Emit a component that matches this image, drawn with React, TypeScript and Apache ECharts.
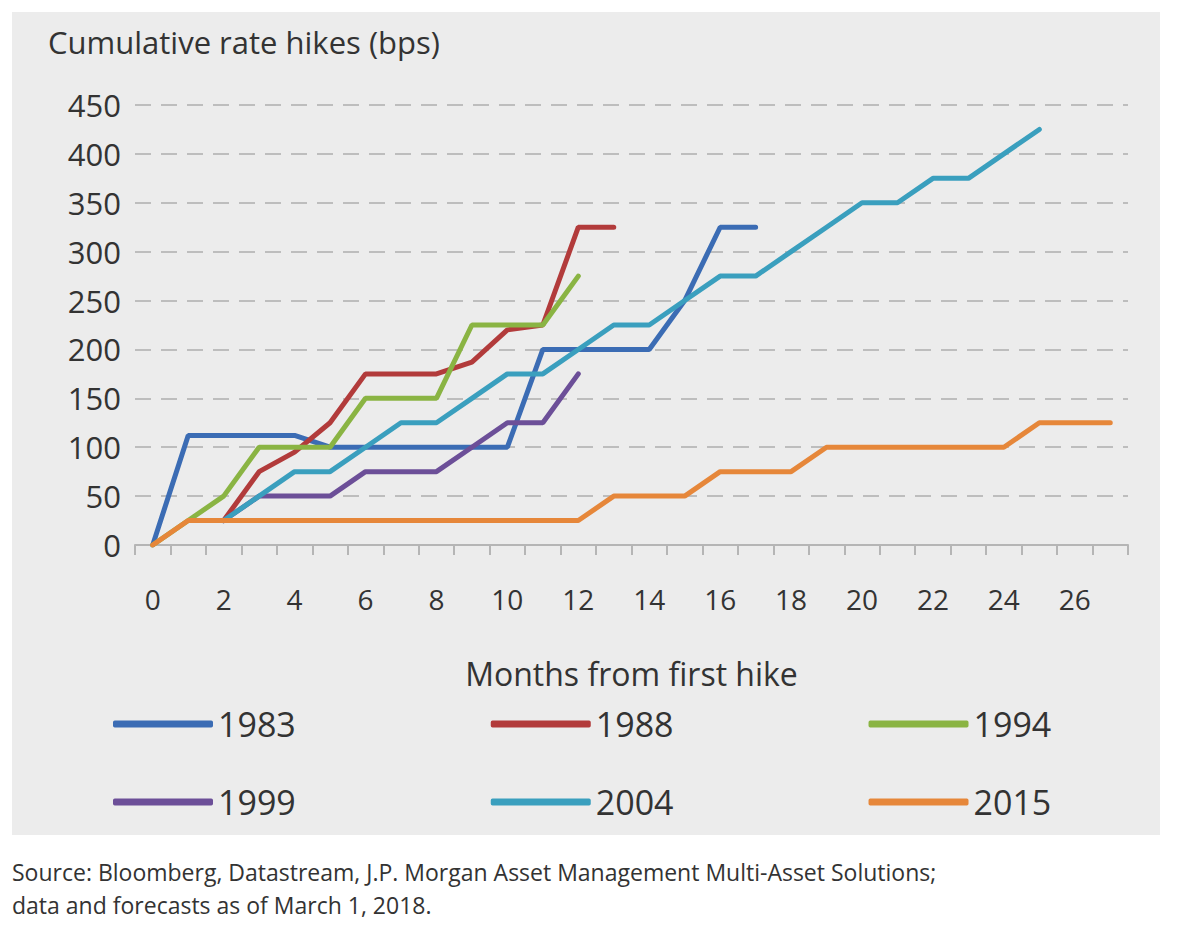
import { useEffect, useRef } from "react";
import * as echarts from "echarts";

const months = Array.from({ length: 28 }, (_, i) => String(i));
const yTicks = [0, 450, 50];

const s1983 = [0, 112, 112, 112, 112, 100, 100, 100, 100, 100, 100, 200, 200, 200, 200, 250, 325, 325];
const s1988 = [null, null, 25, 75, 95, 125, 175, 175, 175, 187, 220, 225, 325, 325];
const s1994 = [0, 25, 50, 100, 100, 100, 150, 150, 150, 225, 225, 225, 275];
const s1999 = [null, null, 25, 50, 50, 50, 75, 75, 75, 100, 125, 125, 175];
const s2004 = [null, null, 25, 50, 75, 75, 100, 125, 125, 150, 175, 175, 200, 225, 225, 250, 275, 275, 300, 325, 350, 350, 375, 375, 400, 425];
const s2015 = [0, 25, 25, 25, 25, 25, 25, 25, 25, 25, 25, 25, 25, 50, 50, 50, 75, 75, 75, 100, 100, 100, 100, 100, 100, 125, 125, 125];

const seriesDefs = [
  { name: "1983", data: s1983, color: "#3b6cb4" },
  { name: "1988", data: s1988, color: "#b23b3b" },
  { name: "1994", data: s1994, color: "#8ab443" },
  { name: "1999", data: s1999, color: "#6c4f98" },
  { name: "2004", data: s2004, color: "#3a9fbe" },
  { name: "2015", data: s2015, color: "#e6873a" }
];

const FONT = "'Open Sans', 'Noto Sans', sans-serif";

export default function App() {
  const ref = useRef<HTMLDivElement | null>(null);

  useEffect(() => {
    document.body.style.margin = "0";
    if (!ref.current) return;
    const chart = echarts.init(ref.current, undefined, { renderer: "svg" });
    const legendCommon = {
      itemWidth: 100,
      itemHeight: 7,
      icon: "roundRect",
      itemGap: 195,
      textStyle: { fontSize: 34, color: "#333", fontFamily: FONT, padding: [0, 0, 0, 0] }
    };
    chart.setOption({
      animation: false,
      backgroundColor: "#ffffff",
      graphic: [
        { type: "rect", z: -10, shape: { x: 12, y: 12, width: 1148, height: 823 }, style: { fill: "#ececec" } },
        {
          type: "text",
          left: 48,
          top: 26,
          style: { text: "Cumulative rate hikes (bps)", fontSize: 31, fill: "#333", fontFamily: FONT }
        },
        {
          type: "text",
          left: 12,
          top: 855,
          style: {
            text: "Source: Bloomberg, Datastream, J.P. Morgan Asset Management Multi-Asset Solutions;\ndata and forecasts as of March 1, 2018.",
            fontSize: 23,
            lineHeight: 33,
            fill: "#333",
            fontFamily: FONT
          }
        }
      ],
      grid: { left: 135, right: 60, top: 105, bottom: 394, containLabel: false, outerBoundsMode: "none" },
      legend: [
        { ...legendCommon, left: 108, top: 702, data: ["1983", "1988", "1994"] },
        { ...legendCommon, left: 108, top: 780, data: ["1999", "2004", "2015"] }
      ],
      xAxis: {
        type: "category",
        data: months,
        boundaryGap: true,
        name: "Months from first hike",
        nameLocation: "middle",
        nameGap: 112,
        nameTextStyle: { fontSize: 32, color: "#333", fontFamily: FONT },
        axisLine: { lineStyle: { color: "#b5b5b5", width: 2 } },
        axisTick: { show: true, interval: 0, length: 10, lineStyle: { color: "#b5b5b5", width: 2 } },
        axisLabel: { interval: 1, fontSize: 28, color: "#333", fontFamily: FONT, margin: 40 }
      },
      yAxis: {
        type: "value",
        min: yTicks[0],
        max: yTicks[1],
        interval: yTicks[2],
        axisLine: { show: false },
        axisTick: { show: false },
        axisLabel: { fontSize: 31, color: "#333", fontFamily: FONT, margin: 14 },
        splitLine: { lineStyle: { color: "#bdbdbd", type: [16, 10], width: 2 } }
      },
      series: seriesDefs.map((s) => ({
        name: s.name,
        type: "line",
        data: s.data,
        showSymbol: false,
        connectNulls: false,
        color: s.color,
        lineStyle: { width: 5, color: s.color, cap: "round" },
        itemStyle: { color: s.color }
      }))
    });
    return () => chart.dispose();
  }, []);

  return <div ref={ref} style={{ width: 1188, height: 939 }} />;
}
